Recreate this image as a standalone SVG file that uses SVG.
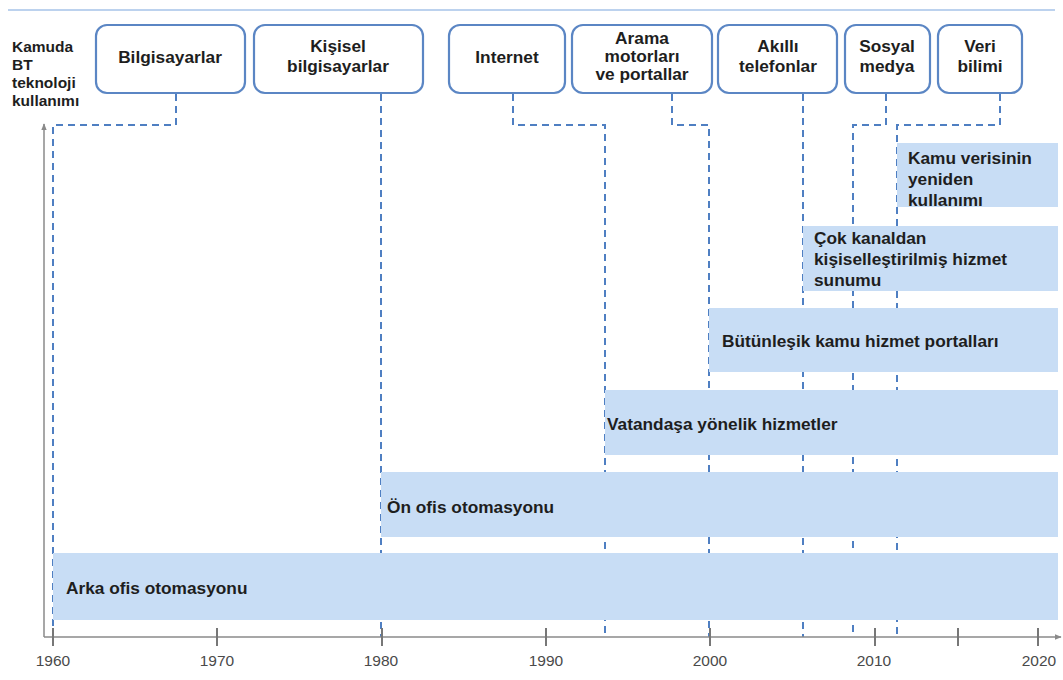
<svg xmlns="http://www.w3.org/2000/svg" width="1063" height="680" viewBox="0 0 1063 680">
<defs>
<marker id="arr" viewBox="0 0 10 10" refX="9" refY="5" markerWidth="7" markerHeight="7" orient="auto-start-reverse" markerUnits="userSpaceOnUse">
<path d="M0,1 L10,5 L0,9 z" fill="#8a8a8a"/>
</marker>
<style>
.box{fill:#fff;stroke:#5b86c4;stroke-width:2.2}
.bar{fill:#c8ddf5}
.bt{font-family:"Liberation Sans",Arial,sans-serif;font-weight:bold;font-size:17.3px;fill:#1e1e1e}
.lb{font-size:15.5px}
.ct{text-anchor:middle}
.yl{font-family:"Liberation Sans",Arial,sans-serif;font-size:15.5px;fill:#4a4a4a;text-anchor:middle}
.dash{fill:none;stroke:#4f7fc2;stroke-width:2;stroke-dasharray:7 5}
.ax{stroke:#8a8a8a;stroke-width:1.5;fill:none}
.tk{stroke:#777;stroke-width:2}
</style>
</defs>
<rect width="1063" height="680" fill="#fff"/>
<line x1="8" y1="10" x2="1055" y2="10" stroke="#bcd2ee" stroke-width="2"/>

<g id="connectors">
<path class="dash" d="M176,94 V125 H53 V637"/>
<path class="dash" d="M381,94 V637"/>
<path class="dash" d="M513,94 V125 H605 V637"/>
<path class="dash" d="M672,94 V125 H709 V637"/>
<path class="dash" d="M803,94 V637"/>
<path class="dash" d="M886,94 V125 H853 V637"/>
<path class="dash" d="M1000,94 V125 H897 V637"/>
</g>

<g id="bars">
<g id="bar-arka"><rect class="bar" x="53" y="553" width="1005" height="67"/><text class="bt" x="66" y="594">Arka ofis otomasyonu</text></g>
<g id="bar-on"><rect class="bar" x="381" y="472" width="677" height="65"/><text class="bt" x="387" y="513">Ön ofis otomasyonu</text></g>
<g id="bar-vatandas"><rect class="bar" x="605" y="390" width="453" height="65"/><text class="bt" x="607" y="430">Vatandaşa yönelik hizmetler</text></g>
<g id="bar-butunlesik"><rect class="bar" x="709" y="308" width="349" height="64"/><text class="bt" x="722" y="347">Bütünleşik kamu hizmet portalları</text></g>
<g id="bar-cok"><rect class="bar" x="803" y="226" width="255" height="65"/><text class="bt" x="814" y="244">Çok kanaldan</text><text class="bt" x="814" y="265">kişiselleştirilmiş hizmet</text><text class="bt" x="814" y="286">sunumu</text></g>
<g id="bar-kamu"><rect class="bar" x="897" y="143" width="161" height="64"/><text class="bt" x="908" y="164">Kamu verisinin</text><text class="bt" x="908" y="185">yeniden</text><text class="bt" x="908" y="206">kullanımı</text></g>
</g>

<g id="axes">
<path class="ax" d="M44,637 V124" marker-end="url(#arr)"/>
<path class="ax" d="M44,637 H1061" marker-end="url(#arr)"/>
<line class="tk" x1="53" y1="628" x2="53" y2="646"/>
<line class="tk" x1="217" y1="628" x2="217" y2="646"/>
<line class="tk" x1="382" y1="628" x2="382" y2="646"/>
<line class="tk" x1="546" y1="628" x2="546" y2="646"/>
<line class="tk" x1="710" y1="628" x2="710" y2="646"/>
<line class="tk" x1="875" y1="628" x2="875" y2="646"/>
<line class="tk" x1="958" y1="628" x2="958" y2="646"/>
<line class="tk" x1="1038" y1="628" x2="1038" y2="646"/>
<text class="yl" x="53" y="666">1960</text>
<text class="yl" x="217" y="666">1970</text>
<text class="yl" x="381" y="666">1980</text>
<text class="yl" x="546" y="666">1990</text>
<text class="yl" x="710" y="666">2000</text>
<text class="yl" x="874" y="666">2010</text>
<text class="yl" x="1039" y="666">2020</text>
</g>

<g id="ylabel"><text class="bt lb" x="12" y="52">Kamuda</text><text class="bt lb" x="12" y="70">BT</text><text class="bt lb" x="12" y="88">teknoloji</text><text class="bt lb" x="12" y="106">kullanımı</text></g>

<g id="n-bilgisayarlar"><rect class="box" x="96" y="25" width="149" height="68" rx="11"/><text class="bt ct" x="170" y="63">Bilgisayarlar</text></g>
<g id="n-kisisel"><rect class="box" x="254" y="25" width="169" height="68" rx="11"/><text class="bt ct" x="338" y="52">Kişisel</text><text class="bt ct" x="338" y="72">bilgisayarlar</text></g>
<g id="n-internet"><rect class="box" x="449" y="25" width="116" height="68" rx="11"/><text class="bt ct" x="507" y="63">Internet</text></g>
<g id="n-arama"><rect class="box" x="572" y="25" width="140" height="68" rx="11"/><text class="bt ct" x="642" y="44">Arama</text><text class="bt ct" x="642" y="62">motorları</text><text class="bt ct" x="642" y="80">ve portallar</text></g>
<g id="n-akilli"><rect class="box" x="718" y="25" width="119" height="68" rx="11"/><text class="bt ct" x="778" y="52">Akıllı</text><text class="bt ct" x="778" y="72">telefonlar</text></g>
<g id="n-sosyal"><rect class="box" x="845" y="25" width="85" height="68" rx="11"/><text class="bt ct" x="887" y="52">Sosyal</text><text class="bt ct" x="887" y="72">medya</text></g>
<g id="n-veri"><rect class="box" x="938" y="25" width="84" height="68" rx="11"/><text class="bt ct" x="980" y="52">Veri</text><text class="bt ct" x="980" y="72">bilimi</text></g>
</svg>
